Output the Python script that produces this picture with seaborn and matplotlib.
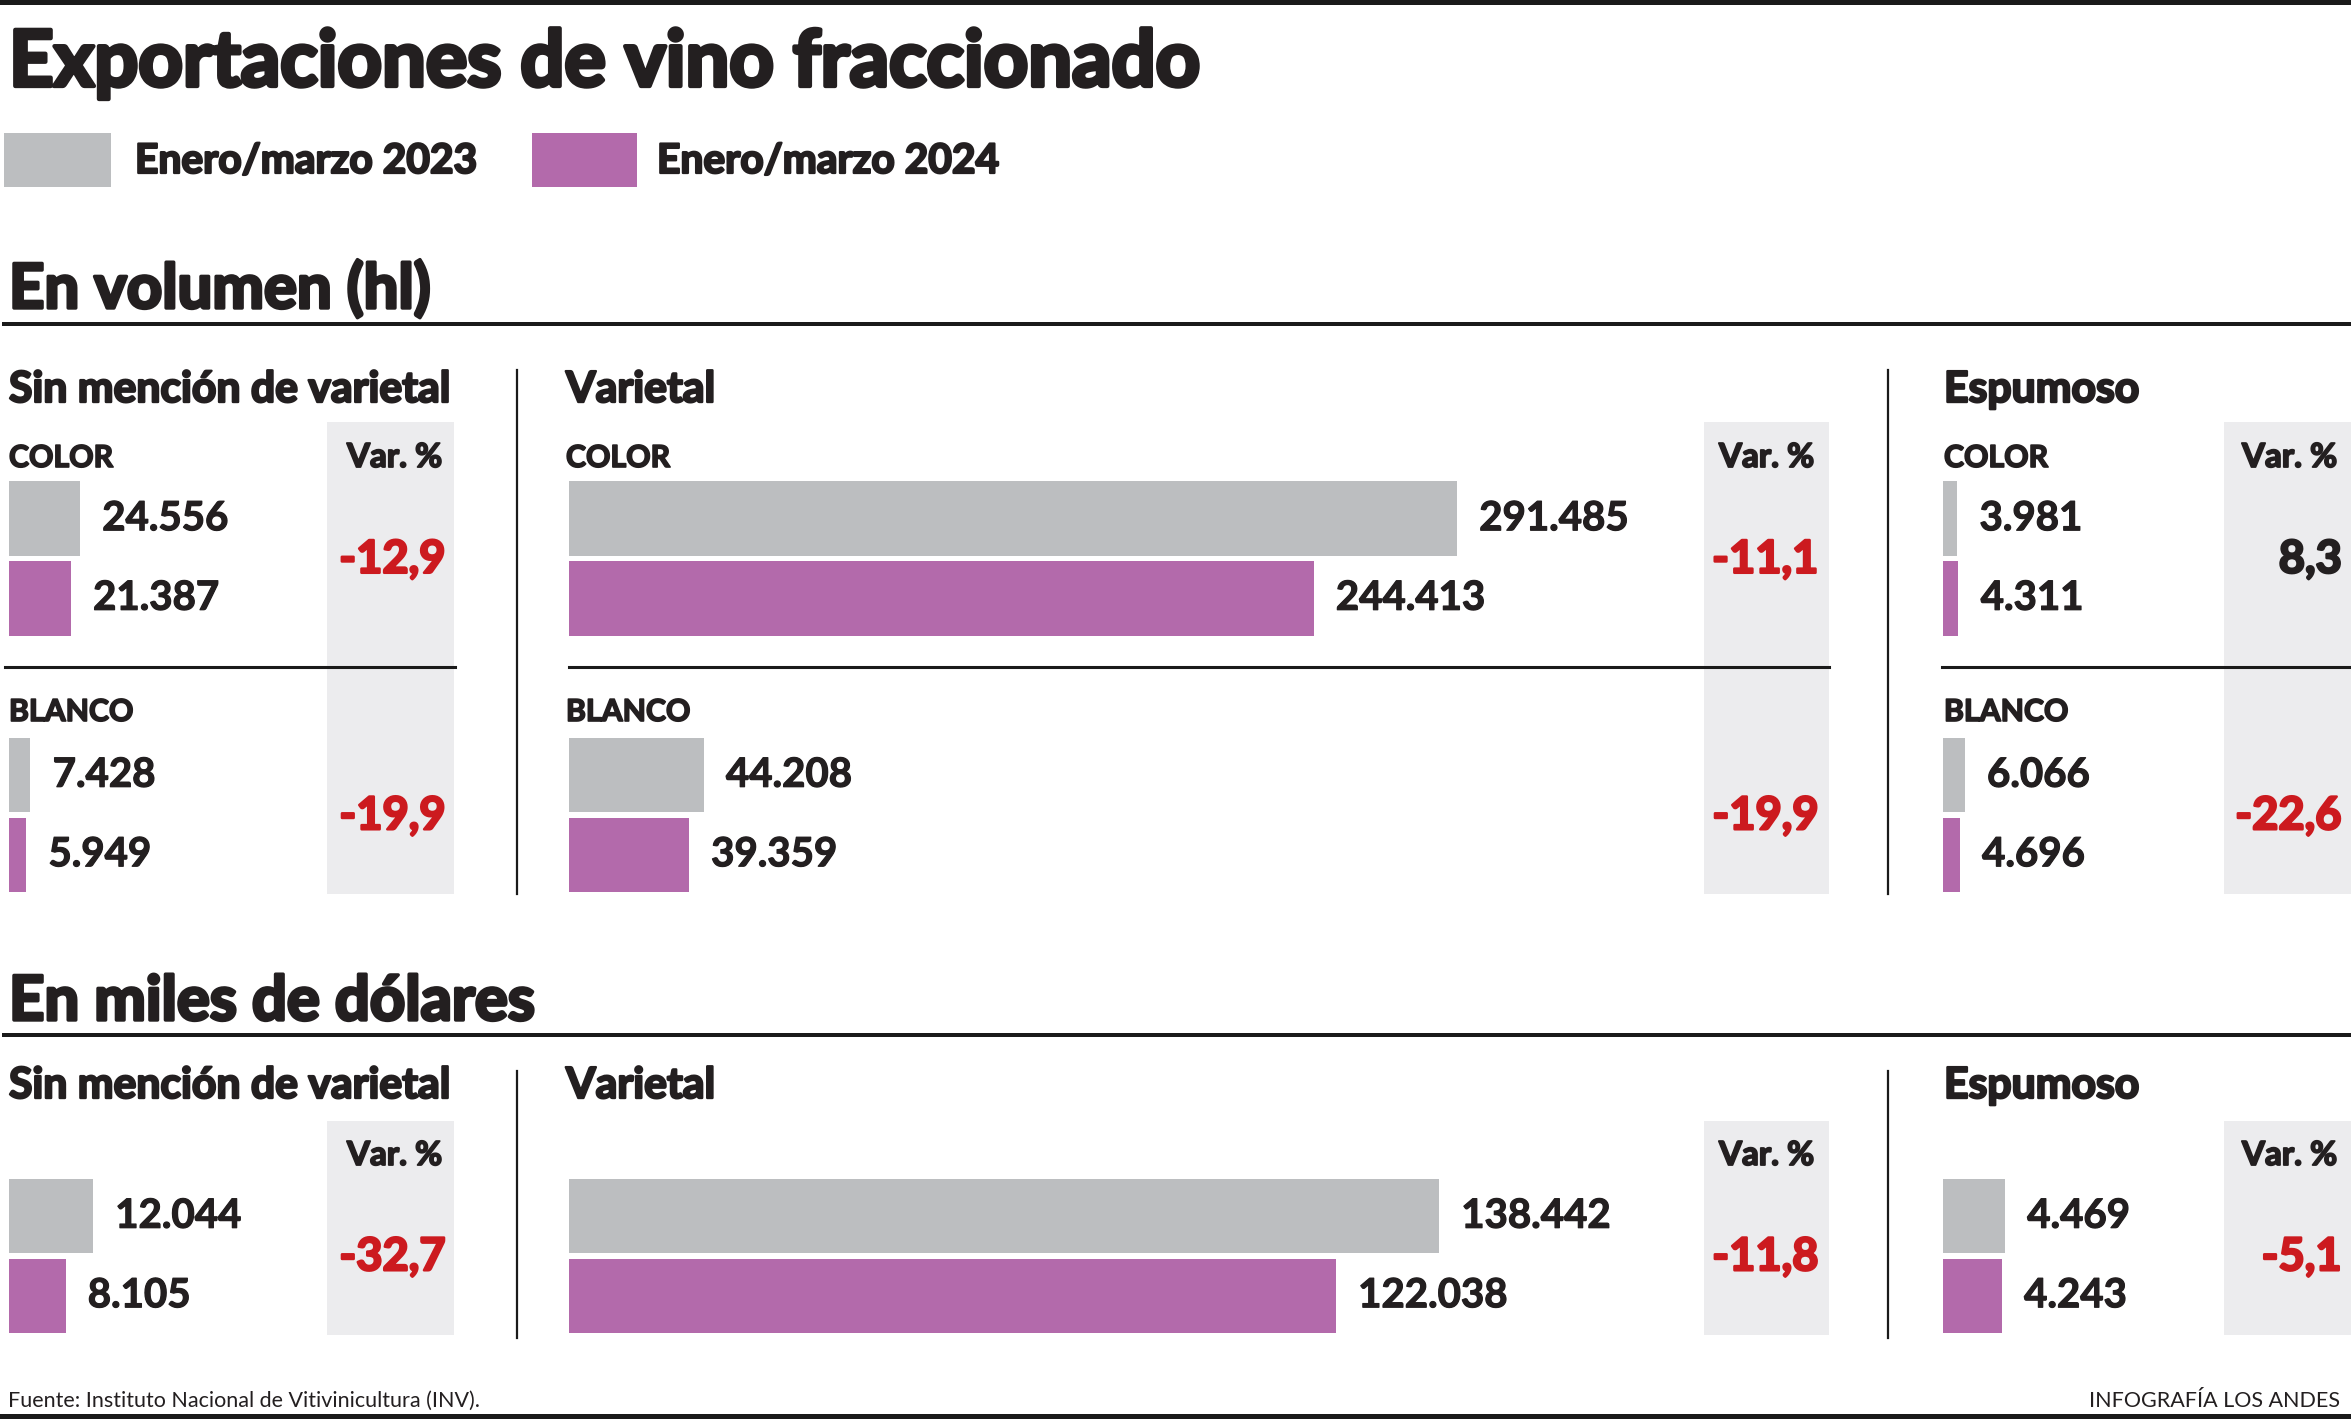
import matplotlib
matplotlib.use('Agg')
import matplotlib.pyplot as plt
from matplotlib.patches import Rectangle
import matplotlib.patheffects as pe
import seaborn as sns
import pandas as pd

# ---------------- data ----------------
years = ['Enero/marzo 2023', 'Enero/marzo 2024']
wine_colors = ['COLOR', 'BLANCO']
panel_names = ['Sin mención de varietal', 'Varietal', 'Espumoso']
section_titles = ['En volumen (hl)', 'En miles de dólares']
title = 'Exportaciones de vino fraccionado'
source = 'Fuente: Instituto Nacional de Vitivinicultura (INV).'
credit = 'INFOGRAFÍA LOS ANDES'
var_label = 'Var. %'

vol_sin_2023 = [24556, 7428]
vol_sin_2024 = [21387, 5949]
vol_sin_var = [-12.9, -19.9]
vol_varietal_2023 = [291485, 44208]
vol_varietal_2024 = [244413, 39359]
vol_varietal_var = [-11.1, -19.9]
vol_esp_2023 = [3981, 6066]
vol_esp_2024 = [4311, 4696]
vol_esp_var = [8.3, -22.6]

usd_total = ['Total']
usd_2023 = [12044, 138442, 4469]
usd_2024 = [8105, 122038, 4243]
usd_var = [-32.7, -11.8, -5.1]

# ---------------- style ----------------
GRAY = '#bcbec0'
PURPLE = '#b36aab'
BOX = '#ececee'
TXT = '#231f20'
RED = '#cc1a1f'
bar_colors = [GRAY, PURPLE]
FAM = ['Lato', 'Open Sans', 'DejaVu Sans']
HEAVY = dict(family=FAM, fontweight='bold', color=TXT)
BOLD = dict(family=FAM, fontweight='bold', color=TXT)
REG = dict(family=FAM, fontweight='normal', color=TXT)

W, H = 2351, 1419
fig = plt.figure(figsize=(W / 100, H / 100), dpi=100)
fig.patch.set_facecolor('white')
ax0 = fig.add_axes([0, 0, 1, 1])
ax0.set_xlim(0, W)
ax0.set_ylim(H, 0)
ax0.axis('off')
fig.canvas.draw()
renderer = fig.canvas.get_renderer()


def fit_size(s, target_w, props):
    t = ax0.text(0, 0, s, fontsize=40, **props)
    w = t.get_window_extent(renderer=renderer).width
    t.remove()
    return 40 * target_w / w


def heavy(size, color=TXT, k=0.055):
    return [pe.Stroke(linewidth=size * k, foreground=color), pe.Normal()]


def htext(x, y, s, size, ha='left', color=TXT, k=0.055):
    props = dict(HEAVY)
    props['color'] = color
    return ax0.text(x, y, s, fontsize=size, ha=ha, va='baseline',
                    path_effects=heavy(size, color, k), **props)


def fmt_int(v):
    return f'{v:,}'.replace(',', '.')


def fmt_pct(v):
    return f'{v:.1f}'.replace('.', ',')


sz_title = fit_size(title, 1190, HEAVY)
sz_leg = fit_size(years[0], 342, HEAVY)
sz_sec = fit_size(section_titles[0], 422, HEAVY)
sz_panel = fit_size(panel_names[0], 441, HEAVY)
sz_cat = fit_size('COLOR', 104, HEAVY)
sz_varlab = fit_size(var_label, 95, HEAVY)
sz_val = fit_size('24.556', 126, BOLD)
sz_pct = fit_size('-12,9', 106, HEAVY)
sz_src = fit_size(source, 470, REG)

# ---------------- frame lines ----------------
ax0.add_patch(Rectangle((0, 0), W, 5, color='#1a1a1a', lw=0))
ax0.add_patch(Rectangle((0, 1414), W, 5, color='#1a1a1a', lw=0))

# title + legend
htext(9, 86, title, sz_title)
leg_sq = [(4, 107), (532, 105)]
leg_tx = [135, 657]
for (x, w), tx, col, lab in zip(leg_sq, leg_tx, bar_colors, years):
    ax0.add_patch(Rectangle((x, 133), w, 54, color=col, lw=0))
    htext(tx, 173, lab, sz_leg)

# section headers and rules
sec_base = [308, 1020]
sec_rule = [324, 1035]
for s, yb, yr in zip(section_titles, sec_base, sec_rule):
    htext(9, yb, s, sz_sec)
    ax0.add_patch(Rectangle((2, yr - 2), W - 2, 4, color='#1a1a1a', lw=0))

# layout
head_x = [9, 566, 1944]
bar_left = [9, 569, 1943]
box_x = [(327, 454), (1704, 1829), (2224, 2351)]
varlab_right = [442, 1814, 2337]
pct_right = [446, 1819, 2342]
hsep = [(5, 455), (569, 1829), (1942, 2351)]
sep_x = [517, 1888]
UNIT = 256.5

cap_pct = 0.72 * sz_pct * 100 / 72


def draw_bars(v23, v24, cats, left_px, c0, ref_px):
    n = len(cats)
    top = c0 - UNIT / 2
    hgt = n * UNIT
    axw = 950
    ax = fig.add_axes([left_px / W, 1 - (top + hgt) / H, axw / W, hgt / H])
    df = pd.DataFrame({'cat': list(cats) * 2,
                       'year': [years[0]] * n + [years[1]] * n,
                       'val': list(v23) + list(v24)})
    sns.barplot(data=df, x='val', y='cat', hue='year', hue_order=years, order=list(cats),
                palette=bar_colors, orient='h', width=0.62, gap=0.063, saturation=1,
                linewidth=0, errorbar=None, legend=False, ax=ax)
    ax.set_xlim(0, v23[0] * axw / ref_px)
    ax.set_ylim(n - 0.5, -0.5)
    ax.axis('off')
    ax.patch.set_alpha(0)
    for cont, vals in zip(ax.containers, [v23, v24]):
        ax.bar_label(cont, labels=[fmt_int(v) for v in vals], padding=16,
                     fontsize=sz_val, path_effects=heavy(sz_val, TXT, 0.03), **BOLD)
    return ax


def pct_text(x, yc, v):
    col = RED if v < 0 else TXT
    htext(x, yc + cap_pct / 2 - 2, fmt_pct(v), sz_pct, ha='right', color=col)


# ---------------- volume section ----------------
vol_sets = [(vol_sin_2023, vol_sin_2024, vol_sin_var, 71),
            (vol_varietal_2023, vol_varietal_2024, vol_varietal_var, 888),
            (vol_esp_2023, vol_esp_2024, vol_esp_var, 14.3)]
vol_centers = [558.5, 815]
for i, (v23, v24, vv, ref_px) in enumerate(vol_sets):
    bx0, bx1 = box_x[i]
    ax0.add_patch(Rectangle((bx0, 422), bx1 - bx0, 894 - 422, color=BOX, lw=0, zorder=0))
    htext(head_x[i], 402, panel_names[i], sz_panel)
    htext(head_x[i], 467, wine_colors[0], sz_cat)
    htext(head_x[i], 721, wine_colors[1], sz_cat)
    htext(varlab_right[i], 467, var_label, sz_varlab, ha='right')
    h0, h1 = hsep[i]
    ax0.plot([h0, h1], [667, 667], color='#1a1a1a', lw=2.2, zorder=2)
    draw_bars(v23, v24, wine_colors, bar_left[i], vol_centers[0], ref_px)
    for yc, v in zip(vol_centers, vv):
        pct_text(pct_right[i], yc, v)
for x in sep_x:
    ax0.plot([x, x], [370, 894], color='#1a1a1a', lw=1.6)

# ---------------- dollars section ----------------
usd_ref_px = [84, 870, 62]
usd_center = 1256
for i in range(3):
    bx0, bx1 = box_x[i]
    ax0.add_patch(Rectangle((bx0, 1121), bx1 - bx0, 1335 - 1121, color=BOX, lw=0, zorder=0))
    htext(head_x[i], 1098, panel_names[i], sz_panel)
    htext(varlab_right[i], 1165, var_label, sz_varlab, ha='right')
    draw_bars([usd_2023[i]], [usd_2024[i]], usd_total, bar_left[i], usd_center, usd_ref_px[i])
    pct_text(pct_right[i], usd_center, usd_var[i])
for x in sep_x:
    ax0.plot([x, x], [1071, 1338], color='#1a1a1a', lw=1.6)

# ---------------- footer ----------------
ax0.text(8, 1407, source, fontsize=sz_src, va='baseline', ha='left', **REG)
ax0.text(2340, 1407, credit, fontsize=sz_src, va='baseline', ha='right', **REG)

fig.savefig('out.png', dpi=100, facecolor='white')
